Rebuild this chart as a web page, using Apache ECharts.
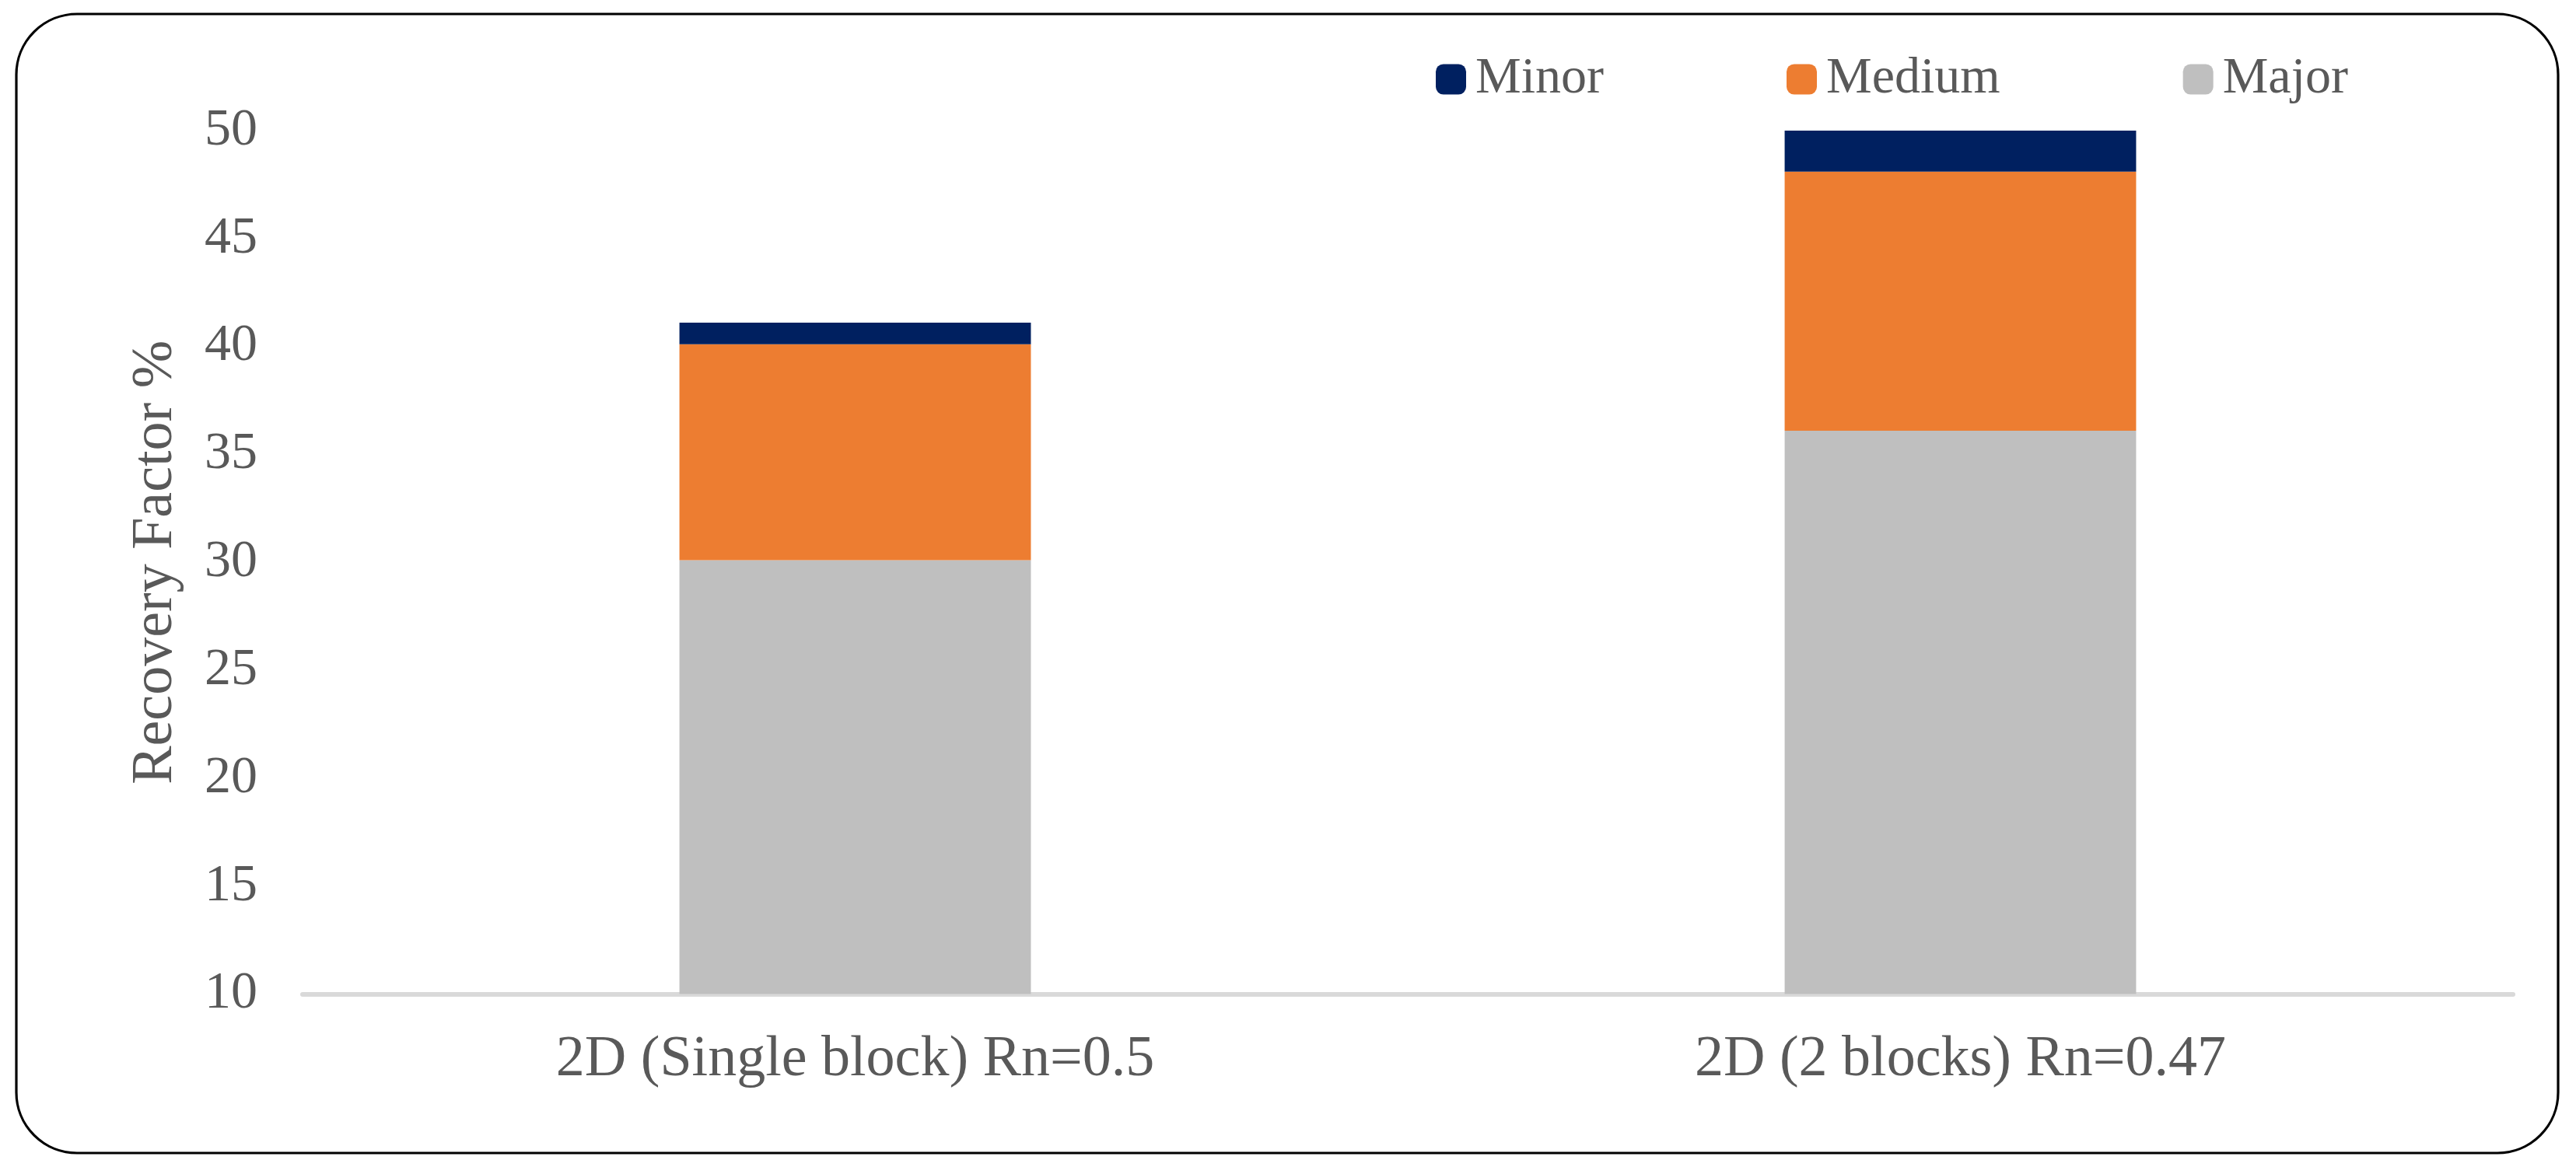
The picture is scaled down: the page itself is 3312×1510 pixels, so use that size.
<!DOCTYPE html>
<html>
<head>
<meta charset="utf-8">
<script src="https://cdn.jsdelivr.net/npm/echarts@6/dist/echarts.min.js"></script>
<style>
html,body{margin:0;padding:0;background:#fff;}
#chart{width:3312px;height:1510px;}
</style>
</head>
<body>
<div id="chart"></div>
<script>
const categories = ['2D (Single block) Rn=0.5', '2D (2 blocks) Rn=0.47'];
const majorValues = [30.1, 36.1];
const mediumValues = [10.0, 12.0];
const minorValues = [1.0, 1.9];
const legendNames = ['Minor', 'Medium', 'Major'];
const yAxisName = 'Recovery Factor %';

const FONT = "'Liberation Serif', 'Times New Roman', serif";
const TXT = '#595959';

const chart = echarts.init(document.getElementById('chart'));
chart.setOption({
  animation: false,
  backgroundColor: '#ffffff',
  graphic: [{
    type: 'rect',
    shape: {x: 21, y: 18, width: 3268, height: 1465, r: 78},
    style: {fill: 'none', stroke: '#000000', lineWidth: 3.2},
    z: 100
  }],
  legend: {
    data: legendNames,
    left: 1841,
    top: 64,
    itemWidth: 39,
    itemHeight: 39,
    itemGap: 235,
    icon: 'roundRect',
    textStyle: {fontFamily: FONT, fontSize: 66, color: TXT, padding: [0, 0, 0, 7]}
  },
  grid: {left: 389, right: 81, top: 168, bottom: 231.5, containLabel: false},
  xAxis: {
    type: 'category',
    data: categories,
    axisTick: {show: false},
    axisLine: {lineStyle: {color: '#D9D9D9', width: 6}},
    axisLabel: {fontFamily: FONT, fontSize: 74, color: TXT, margin: 48}
  },
  yAxis: {
    type: 'value',
    min: 10,
    max: 50,
    interval: 5,
    name: yAxisName,
    nameLocation: 'middle',
    nameGap: 151,
    nameTextStyle: {fontFamily: FONT, fontSize: 74, color: TXT},
    axisLine: {show: false},
    axisTick: {show: false},
    splitLine: {show: false},
    axisLabel: {fontFamily: FONT, fontSize: 68, color: TXT, margin: 58}
  },
  series: [
    {name: 'Major', type: 'bar', stack: 'rf', data: majorValues, barWidth: '31.8%', itemStyle: {color: '#BFBFBF'}},
    {name: 'Medium', type: 'bar', stack: 'rf', data: mediumValues, barWidth: '31.8%', itemStyle: {color: '#ED7D31'}},
    {name: 'Minor', type: 'bar', stack: 'rf', data: minorValues, barWidth: '31.8%', itemStyle: {color: '#002060'}}
  ]
});
</script>
</body>
</html>
